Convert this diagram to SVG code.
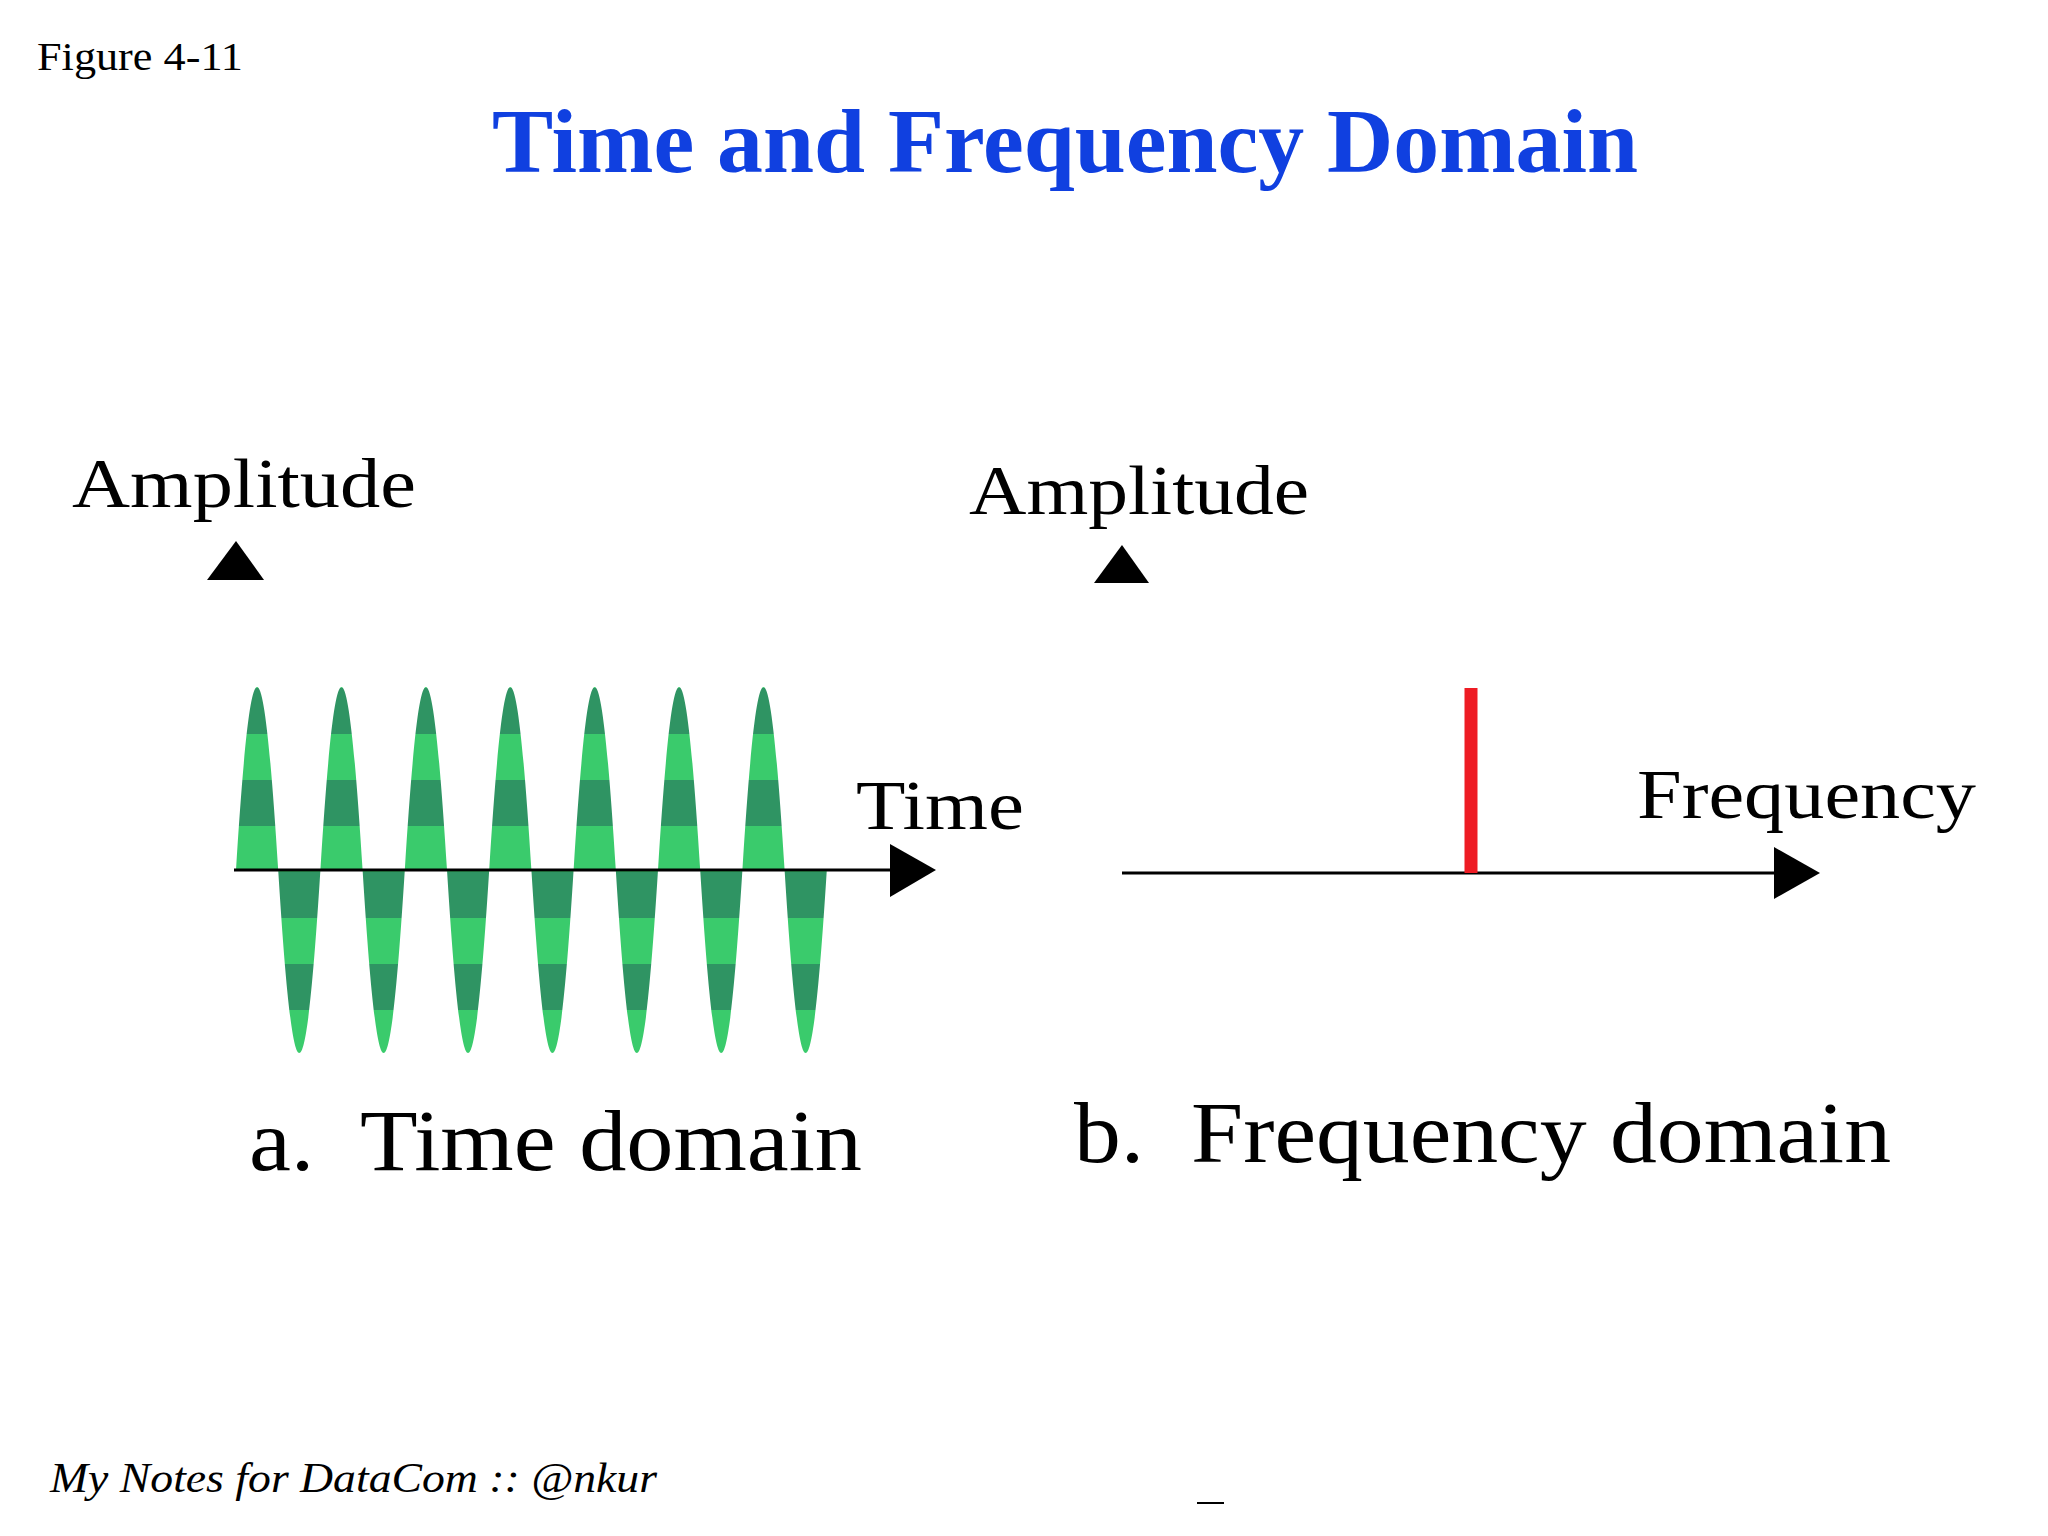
<svg xmlns="http://www.w3.org/2000/svg" width="2048" height="1536" viewBox="0 0 2048 1536">
<style>
.t{font-family:"Liberation Serif",serif;fill:#000}
.ax{stroke:#000;stroke-width:3;fill:none}
</style>
<defs>
<pattern id="stripes" patternUnits="userSpaceOnUse" x="0" y="688" width="40" height="92">
<rect width="40" height="92" fill="#2f9463"/>
<rect y="46" width="40" height="46" fill="#3acb6c"/>
</pattern>
</defs>
<rect width="2048" height="1536" fill="#fff"/>
<text class="t" x="37" y="70" font-size="40" textLength="206" lengthAdjust="spacingAndGlyphs">Figure 4-11</text>
<text x="492" y="172" font-family="Liberation Serif,serif" font-weight="bold" font-size="90" fill="#1040e0" textLength="1146" lengthAdjust="spacingAndGlyphs">Time and Frequency Domain</text>
<g id="time-domain">
<text class="t" x="72" y="507" font-size="70" textLength="344" lengthAdjust="spacingAndGlyphs">Amplitude</text>
<polygon points="236,541 207,580 264,580" fill="#000"/>
<path fill="url(#stripes)" d="M236,870 c15.2,-244 27,-244 42.2,0 c15.2,244 27,244 42.2,0 c15.2,-244 27,-244 42.2,0 c15.2,244 27,244 42.2,0 c15.2,-244 27,-244 42.2,0 c15.2,244 27,244 42.2,0 c15.2,-244 27,-244 42.2,0 c15.2,244 27,244 42.2,0 c15.2,-244 27,-244 42.2,0 c15.2,244 27,244 42.2,0 c15.2,-244 27,-244 42.2,0 c15.2,244 27,244 42.2,0 c15.2,-244 27,-244 42.2,0 c15.2,244 27,244 42.2,0 Z"/>
<line class="ax" x1="234" y1="870" x2="893" y2="870"/>
<polygon points="936,870 890,844 890,897" fill="#000"/>
<text class="t" x="856" y="829" font-size="70" textLength="168" lengthAdjust="spacingAndGlyphs">Time</text>
<text class="t" x="249" y="1170" font-size="86" textLength="613" lengthAdjust="spacingAndGlyphs" xml:space="preserve">a.  Time domain</text>
</g>
<g id="frequency-domain">
<text class="t" x="969" y="514" font-size="70" textLength="340" lengthAdjust="spacingAndGlyphs">Amplitude</text>
<polygon points="1122,545 1094,583 1149,583" fill="#000"/>
<line class="ax" x1="1122" y1="873" x2="1780" y2="873"/>
<polygon points="1820,873 1774,847 1774,899" fill="#000"/>
<line x1="1471" y1="688" x2="1471" y2="873" stroke="#ee1c24" stroke-width="13"/>
<text class="t" x="1637" y="818" font-size="70" textLength="339" lengthAdjust="spacingAndGlyphs">Frequency</text>
<text class="t" x="1074" y="1162" font-size="86" textLength="817" lengthAdjust="spacingAndGlyphs" xml:space="preserve">b.  Frequency domain</text>
</g>
<text class="t" x="50" y="1492" font-size="42" font-style="italic" textLength="607" lengthAdjust="spacingAndGlyphs">My Notes for DataCom :: @nkur</text>
<line x1="1197" y1="1503" x2="1224" y2="1503" stroke="#000" stroke-width="2"/>
</svg>
